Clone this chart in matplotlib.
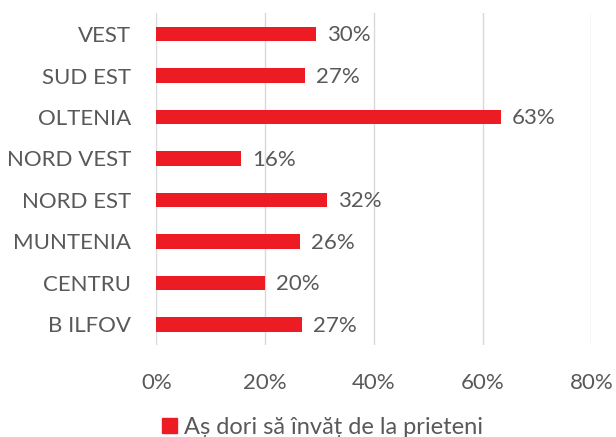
import matplotlib
matplotlib.use("Agg")
import matplotlib.pyplot as plt
from matplotlib.patches import Patch

plt.rcParams['font.family'] = ['Lato', 'DejaVu Sans']

regions = ["B ILFOV", "CENTRU", "MUNTENIA", "NORD EST", "NORD VEST", "OLTENIA", "SUD EST", "VEST"]
values = [26.7, 20.0, 26.4, 31.4, 15.5, 63.4, 27.3, 29.4]
labels = ["27%", "20%", "26%", "32%", "16%", "63%", "27%", "30%"]
xticks = [0, 20, 40, 60, 80]
series_name = "Aș dori să învăț de la prieteni"

red = "#ED1C24"
gray = "#595959"

fig = plt.figure(figsize=(6.16, 4.37), dpi=100)
ax = fig.add_axes([0.254, 0.2105, 0.706, 0.759])

ypos = range(len(regions))
ax.barh(ypos, values, height=0.35, color=red, zorder=3)
for y, v, lab in zip(ypos, values, labels):
    ax.annotate(lab, (v, y), xytext=(8, -1), textcoords="offset points",
                va="center", ha="left", fontsize=16, color=gray)

ax.set_xlim(0, 80)
ax.set_ylim(-0.5, len(regions) - 0.5)
ax.set_xticks(xticks)
ax.set_xticklabels([f"{t}%" for t in xticks])
ax.set_yticks(list(ypos))
ax.set_yticklabels(regions)
ax.tick_params(axis='both', length=0, labelsize=16, labelcolor=gray)
ax.tick_params(axis='x', pad=20)
ax.tick_params(axis='y', pad=18)
ax.grid(axis='x', color="#d9d9d9", linewidth=1, zorder=0)
for s in ax.spines.values():
    s.set_visible(False)

fig.legend(handles=[Patch(color=red, label=series_name)], loc="center",
           bbox_to_anchor=(0.524, 0.022), frameon=False, fontsize=17,
           labelcolor=gray, handlelength=0.65, handleheight=0.65, handletextpad=0.3)

fig.savefig("out.png", dpi=100)
